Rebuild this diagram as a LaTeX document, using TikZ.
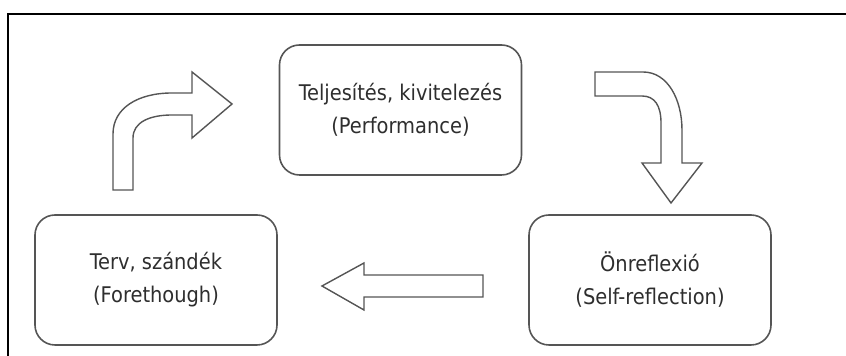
\documentclass[tikz,border=0pt]{standalone}
\usepackage{fontspec}
\setmainfont{DejaVu Sans Condensed}
\definecolor{boxgray}{HTML}{555555}
\definecolor{txtgray}{HTML}{2E2E2E}
\tikzset{
  stage/.style={draw=boxgray, line width=0.8pt, rounded corners=10pt,
    minimum width=121pt, minimum height=65pt, align=center, text=txtgray,
    font=\fontsize{10.8}{16.5}\selectfont},
  blockarrow/.style={draw=boxgray, line width=0.7pt, fill=white, line join=miter}
}

\begin{document}
\begin{tikzpicture}[x=0.5pt,y=0.5pt]
      \useasboundingbox (0,0) rectangle (846,356);
      \draw[line width=1pt] (8,0) -- (8,342) -- (846,342);
      % the three phases
      \node[stage] (perf) at (400.5,246) {Teljesítés, kivitelezés\\(Performance)};
      \node[stage] (plan) at (156,76) {Terv, szándék\\(Forethough)};
      \node[stage] (refl) at (650,76) {Önreflexió\\(Self-reflection)};
      % block arrows
      \draw[blockarrow] (113,166) -- (113,222) .. controls (113,248) and (138,263) .. (172,263)
        -- (192,263) -- (192,284) -- (232,252) -- (192,218) -- (192,241) -- (172,241)
        .. controls (150,241) and (133,234) .. (133,218) -- (133,166) -- cycle;
      \draw[blockarrow] (595,284) -- (643,284) .. controls (668,284) and (682,256) .. (682,226)
        -- (682,193) -- (702,193) -- (671,153) -- (642,193) -- (661,193) -- (661,233)
        .. controls (661,250) and (655,260) .. (642,260) -- (595,260) -- cycle;
      \draw[blockarrow] (483,81) -- (364,81) -- (364,93) -- (322,70) -- (364,46)
        -- (364,59) -- (483,59) -- cycle;
    \end{tikzpicture}
\end{document}
